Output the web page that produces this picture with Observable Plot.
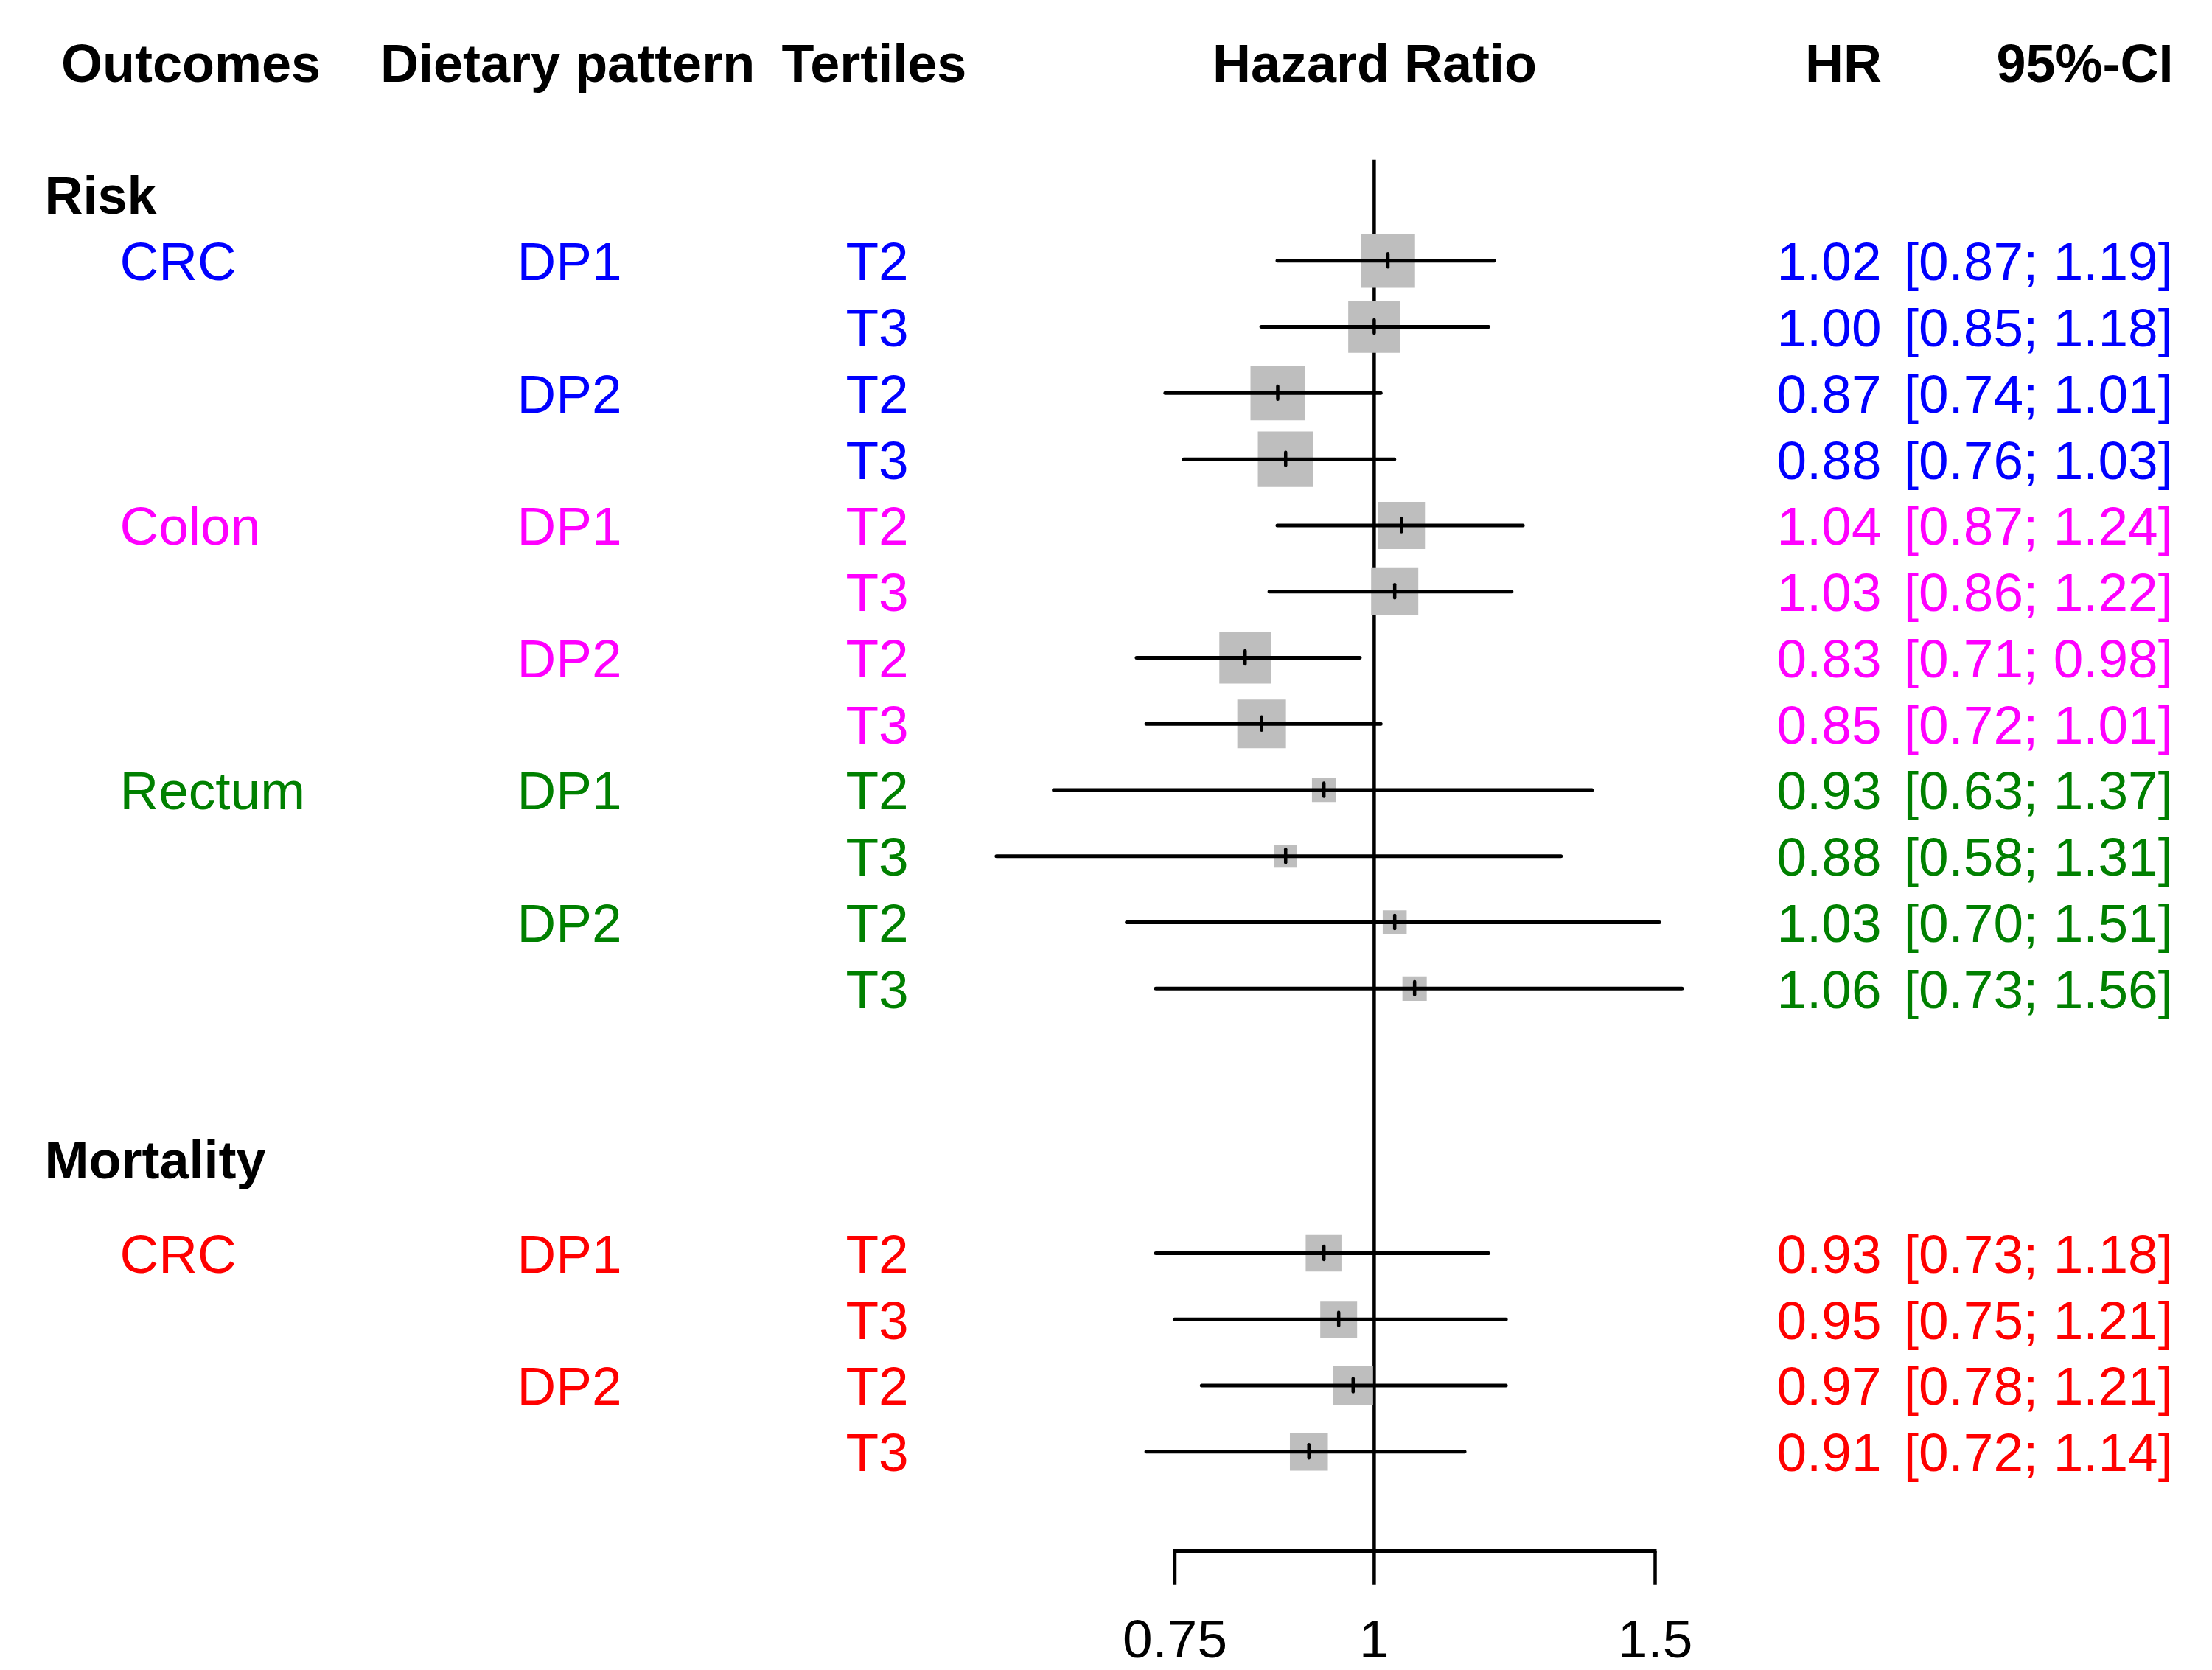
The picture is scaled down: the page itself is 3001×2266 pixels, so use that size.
<!DOCTYPE html>
<html>
<head>
<meta charset="utf-8">
<script src="https://cdn.jsdelivr.net/npm/d3@7"></script>
<script src="https://cdn.jsdelivr.net/npm/@observablehq/plot@0.6"></script>
<style>
  html, body { margin: 0; padding: 0; background: #ffffff; }
  #chart svg { display: block; }
</style>
</head>
<body>
<div id="chart"></div>
<script>
// ---------- data ----------
const outcomes = ["CRC","","","","Colon","","","","Rectum","","","","CRC","","",""];
const patterns = ["DP1","","DP2","","DP1","","DP2","","DP1","","DP2","","DP1","","DP2",""];
const tertiles = ["T2","T3","T2","T3","T2","T3","T2","T3","T2","T3","T2","T3","T2","T3","T2","T3"];
const groups = ["Risk CRC","Risk CRC","Risk CRC","Risk CRC",
                "Risk Colon","Risk Colon","Risk Colon","Risk Colon",
                "Risk Rectum","Risk Rectum","Risk Rectum","Risk Rectum",
                "Mortality CRC","Mortality CRC","Mortality CRC","Mortality CRC"];
const hr    = [1.02, 1.00, 0.87, 0.88, 1.04, 1.03, 0.83, 0.85, 0.93, 0.88, 1.03, 1.06, 0.93, 0.95, 0.97, 0.91];
const lower = [0.87, 0.85, 0.74, 0.76, 0.87, 0.86, 0.71, 0.72, 0.63, 0.58, 0.70, 0.73, 0.73, 0.75, 0.78, 0.72];
const upper = [1.19, 1.18, 1.01, 1.03, 1.24, 1.22, 0.98, 1.01, 1.37, 1.31, 1.51, 1.56, 1.18, 1.21, 1.21, 1.14];
// relative weights (box area)
const weights = [95.0, 87.4, 96.3, 100, 72.0, 72.0, 86.2, 76.6, 18.6, 16.9, 18.6, 19.2, 43.1, 44.0, 51.3, 46.7];
const sections = ["Risk", "Mortality"];
const headers = ["Outcomes", "Dietary pattern", "Tertiles", "Hazard Ratio", "HR", "95%-CI"];
const groupNames = ["Risk CRC", "Risk Colon", "Risk Rectum", "Mortality CRC"];
const groupColors = ["#0000FF", "#FF00FF", "#008000", "#FF0000"];
const xTicks = [0.75, 1, 1.5];
const xTickLabels = ["0.75", "1", "1.5"];

// ---------- layout ----------
const FONT = "'Liberation Sans', Arial, Helvetica, sans-serif";
const FS = 73, FSB = 72;
const rowOf = (i) => (i < 12 ? i : i + 3);
const sectionRows = [-1, 13.585];
const headerRow = -3;
const axisRow = 19.5, tickEndRow = 20.01, tickLabelRow = 20.82, refTopRow = -1.52;

const rows = hr.map((v, i) => ({
  outcome: outcomes[i], pattern: patterns[i], tertile: tertiles[i], group: groups[i],
  hr: v, lower: lower[i], upper: upper[i], weight: weights[i], row: rowOf(i),
  hrText: v.toFixed(2), ciText: `[${lower[i].toFixed(2)}; ${upper[i].toFixed(2)}]`
}));

const headerLayout = [
  {dx: 82.5, anchor: "start"},
  {dx: 515.5, anchor: "start"},
  {dx: 1060, anchor: "start"},
  {dx: 1864.5, anchor: "middle"},
  {dx: 2552.5, anchor: "end"},
  {dx: 2948, anchor: "end"}
];

const textCol = (field, dx, anchor) => Plot.text(rows, {
  y: "row", text: field, fill: "group", frameAnchor: "left", dx, dy: 3,
  textAnchor: anchor, fontSize: FS
});

const chart = Plot.plot({
  width: 3001, height: 2266,
  marginTop: 0, marginRight: 0, marginBottom: 0, marginLeft: 0,
  style: {fontFamily: FONT, background: "#ffffff", overflow: "hidden"},
  x: {type: "log", domain: [0.75, 1.5], range: [1593.5, 2245], axis: null},
  y: {type: "linear", domain: [0, 18], range: [353.3, 1969.3], axis: null},
  r: {type: "sqrt", domain: [0, 100], range: [0, 75.4 / Math.sqrt(Math.PI)]},
  color: {type: "ordinal", domain: groupNames, range: groupColors},
  marks: [
    // reference line at HR = 1
    Plot.ruleX([1], {y1: refTopRow, y2: axisRow, stroke: "black", strokeWidth: 4.5}),
    // weight boxes
    Plot.dot(rows, {x: "hr", y: "row", r: "weight", symbol: "square", fill: "#BEBEBE", stroke: null}),
    // confidence intervals
    Plot.ruleY(rows, {y: "row", x1: "lower", x2: "upper", stroke: "black", strokeWidth: 5, strokeLinecap: "round"}),
    // point estimate ticks
    Plot.ruleX(rows, {x: "hr", y1: (d) => d.row - 0.1, y2: (d) => d.row + 0.1, stroke: "black", strokeWidth: 4.5, strokeLinecap: "round"}),
    // x axis
    Plot.ruleY([axisRow], {x1: xTicks[0], x2: xTicks[xTicks.length - 1], stroke: "black", strokeWidth: 5, strokeLinecap: "square"}),
    Plot.ruleX(xTicks, {x: (d) => d, y1: axisRow, y2: tickEndRow, stroke: "black", strokeWidth: 4.5}),
    Plot.text(xTicks, {x: (d) => d, y: tickLabelRow, text: (d, i) => xTickLabels[i], fill: "black", fontSize: FS, dy: 3, textAnchor: "middle"}),
    // headers
    ...headers.map((h, i) => Plot.text([h], {
      y: headerRow, text: (d) => d, frameAnchor: "left", dx: headerLayout[i].dx, dy: 3,
      textAnchor: headerLayout[i].anchor, fontSize: FSB, fontWeight: "bold", fill: "black"
    })),
    // section labels
    Plot.text(sections, {y: sectionRows, text: (d) => d, frameAnchor: "left", dx: 60, dy: 3,
      textAnchor: "start", fontSize: FSB, fontWeight: "bold", fill: "black"}),
    // table columns
    textCol("outcome", 162, "start"),
    textCol("pattern", 701, "start"),
    textCol("tertile", 1147, "start"),
    textCol("hrText", 2552, "end"),
    textCol("ciText", 2947.5, "end")
  ]
});

document.getElementById("chart").appendChild(chart);
</script>
</body>
</html>
